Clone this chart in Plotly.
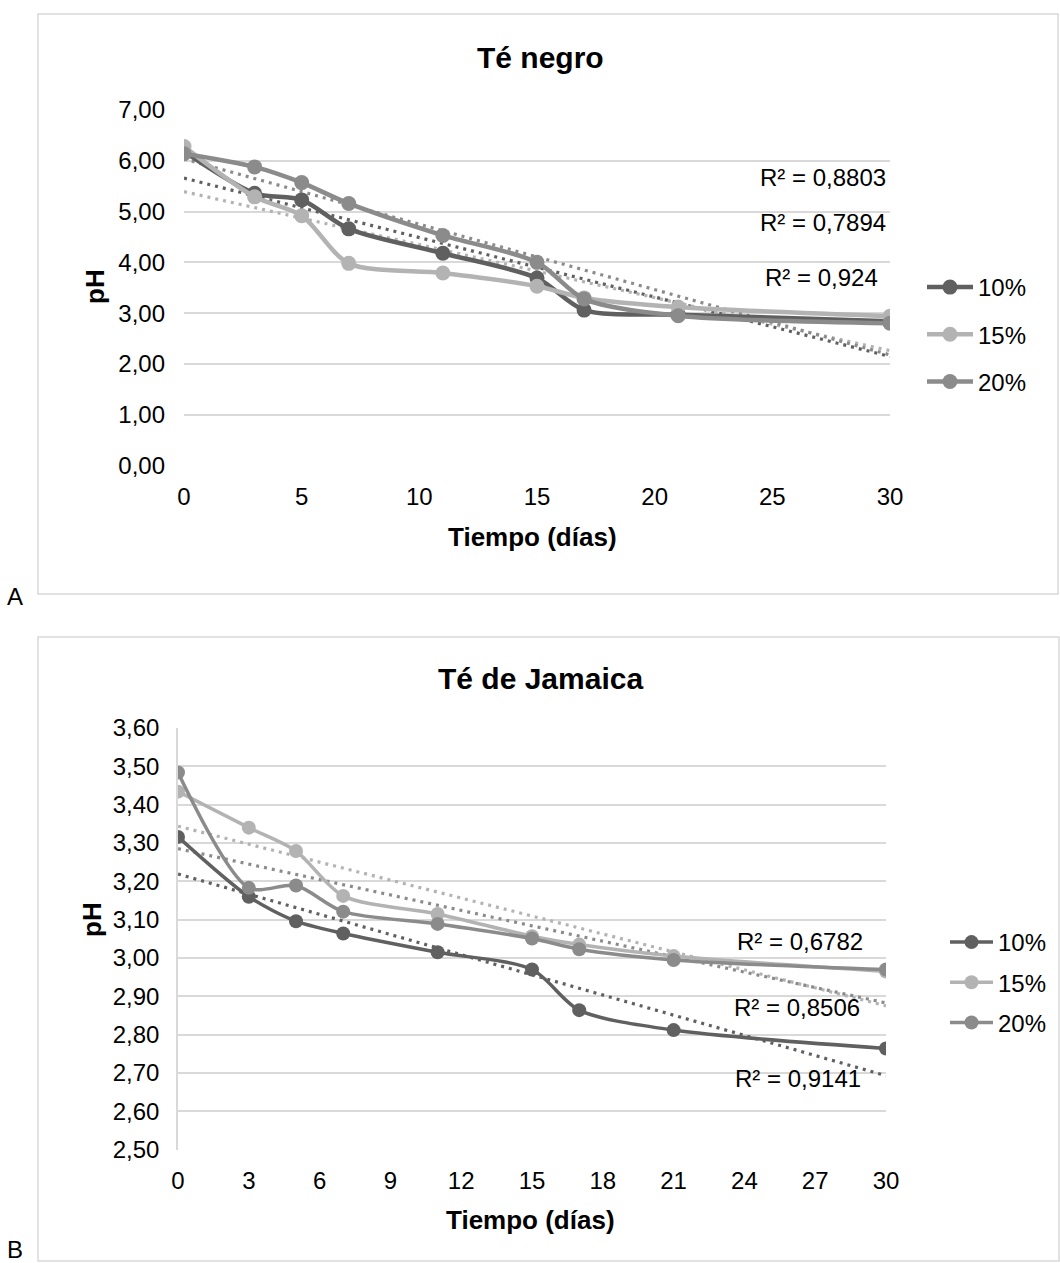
import numpy as np
import plotly.graph_objects as go

# ---------------- data ----------------
dias = [0, 3, 5, 7, 11, 15, 17, 21, 30]
series_names = ["10%", "15%", "20%"]

# Panel A: Té negro
negro_10 = [6.18, 5.36, 5.23, 4.66, 4.18, 3.69, 3.06, 2.97, 2.84]
negro_15 = [6.28, 5.29, 4.92, 3.98, 3.79, 3.53, 3.30, 3.12, 2.94]
negro_20 = [6.14, 5.88, 5.57, 5.16, 4.53, 4.00, 3.28, 2.95, 2.80]
negro_r2 = ["R² = 0,8803", "R² = 0,7894", "R² = 0,924"]

# Panel B: Té de Jamaica
jam_10 = [3.316, 3.160, 3.096, 3.064, 3.015, 2.970, 2.864, 2.812, 2.764]
jam_15 = [3.434, 3.340, 3.279, 3.162, 3.115, 3.057, 3.035, 3.005, 2.965]
jam_20 = [3.484, 3.183, 3.189, 3.121, 3.089, 3.051, 3.023, 2.995, 2.970]
jam_r2 = ["R² = 0,6782", "R² = 0,8506", "R² = 0,9141"]

titles = ["Té negro", "Té de Jamaica"]
x_title = "Tiempo (días)"
y_title = "pH"
panel_labels = ["A", "B"]

# ---------------- style ----------------
W, H = 1060, 1263
FONT = "Liberation Sans, Arial, sans-serif"
colors = ["#606060", "#b3b3b3", "#8b8b8b"]
GRID = "#d9d9d9"


def px(x):
    return x / W


def py(y):
    return 1 - y / H


fig = go.Figure()

panels = [
    dict(data=[negro_10, negro_15, negro_20], xa="x", ya="y", legend="legend",
         lw=4.5, ms=15, tw=3.2),
    dict(data=[jam_10, jam_15, jam_20], xa="x2", ya="y2", legend="legend2",
         lw=3.5, ms=14, tw=3.2),
]

for p in panels:
    # trendlines (linear least squares, like Excel)
    for vals, col in zip(p["data"], colors):
        m, b = np.polyfit(dias, vals, 1)
        xs = [min(dias), max(dias)]
        fig.add_trace(go.Scatter(
            x=xs, y=[m * xv + b for xv in xs], mode="lines",
            line=dict(color=col, width=p["tw"], dash="3px,5px"),
            xaxis=p["xa"], yaxis=p["ya"], showlegend=False, hoverinfo="skip"))
    for vals, col, name in zip(p["data"], colors, series_names):
        fig.add_trace(go.Scatter(
            x=dias, y=vals, mode="lines+markers", name=name,
            line=dict(color=col, width=p["lw"], shape="spline", smoothing=0.8),
            marker=dict(color=col, size=p["ms"]),
            xaxis=p["xa"], yaxis=p["ya"], legend=p["legend"],
            legendgroup=p["legend"] + name))

axis_font = dict(family=FONT, size=24, color="#000000")

layout = dict(
    width=W, height=H, margin=dict(l=0, r=0, t=0, b=0, autoexpand=False),
    paper_bgcolor="white", plot_bgcolor="white",
    separators=", ",
    font=dict(family=FONT, size=24, color="#000000"),
    xaxis=dict(domain=[px(184), px(890)], range=[0, 30], tickvals=list(range(0, 31, 5)),
               showgrid=False, zeroline=False, showline=False, ticks="", automargin=False,
               tickfont=axis_font, ticklabelstandoff=14, anchor="y"),
    yaxis=dict(domain=[py(465.5), py(110)], range=[0, 7], tickvals=[0, 1, 2, 3, 4, 5, 6, 7],
               tickformat=".2f", showgrid=True, gridcolor=GRID, gridwidth=1.5,
               zeroline=False, showline=False, ticks="", tickfont=axis_font, automargin=False,
               ticklabelstandoff=18, anchor="x"),
    xaxis2=dict(domain=[px(178), px(886)], range=[0, 30], tickvals=list(range(0, 31, 3)),
                showgrid=False, zeroline=False, showline=False, ticks="", automargin=False,
                tickfont=axis_font, ticklabelstandoff=14, anchor="y2"),
    yaxis2=dict(domain=[py(1149.7), py(728)], range=[2.5, 3.6],
                tickvals=[round(2.5 + 0.1 * i, 2) for i in range(12)],
                tickformat=".2f", showgrid=True, gridcolor=GRID, gridwidth=1.5,
                zeroline=False, showline=True, linecolor=GRID, linewidth=1.5, automargin=False,
                ticks="", tickfont=axis_font, ticklabelstandoff=12, anchor="x2"),
    legend=dict(x=px(922), y=py(265), xanchor="left", yanchor="top",
                font=dict(family=FONT, size=24), tracegroupgap=13,
                bgcolor="rgba(0,0,0,0)", itemwidth=46),
    legend2=dict(x=px(945), y=py(920), xanchor="left", yanchor="top",
                 font=dict(family=FONT, size=24), tracegroupgap=6,
                 bgcolor="rgba(0,0,0,0)", itemwidth=43),
    shapes=[
        dict(type="rect", xref="paper", yref="paper", x0=px(38), x1=px(1058),
             y0=py(594), y1=py(14), line=dict(color=GRID, width=1.5)),
        dict(type="rect", xref="paper", yref="paper", x0=px(38), x1=px(1059),
             y0=py(1261), y1=py(637), line=dict(color=GRID, width=1.5)),
    ],
)

annotations = []


def ann(text, x, y, size, xref="paper", yref="paper", angle=0):
    annotations.append(dict(text=text, x=x, y=y, xref=xref, yref=yref, showarrow=False,
                            xanchor="center", yanchor="middle", textangle=angle,
                            font=dict(family=FONT, size=size, color="#000000")))


# titles
for t, (cx, cy) in zip(titles, [(540, 57), (540, 678)]):
    ann(f"<b>{t}</b>", px(cx), py(cy), 30)
# axis titles
for (cx, cy) in [(532, 537), (530, 1220)]:
    ann(f"<b>{x_title}</b>", px(cx), py(cy), 26)
for (cx, cy) in [(95, 287), (92, 920)]:
    ann(f"<b>{y_title}</b>", px(cx), py(cy), 26, angle=-90)
# panel letters
for lab, (cx, cy) in zip(panel_labels, [(15, 596), (15, 1249)]):
    ann(lab, px(cx), py(cy), 24)
# R² labels (data coordinates)
for txt, (xx, yy) in zip(negro_r2, [(27.16, 5.68), (27.16, 4.79), (27.07, 3.71)]):
    ann(txt, xx, yy, 24, "x", "y")
for txt, (xx, yy) in zip(jam_r2, [(26.36, 3.042), (26.23, 2.870), (26.27, 2.687)]):
    ann(txt, xx, yy, 24, "x2", "y2")
layout["annotations"] = annotations

fig.update_layout(**layout)
fig.write_html("out.html",
               post_script="document.body.style.margin='0';document.body.style.padding='0';")
